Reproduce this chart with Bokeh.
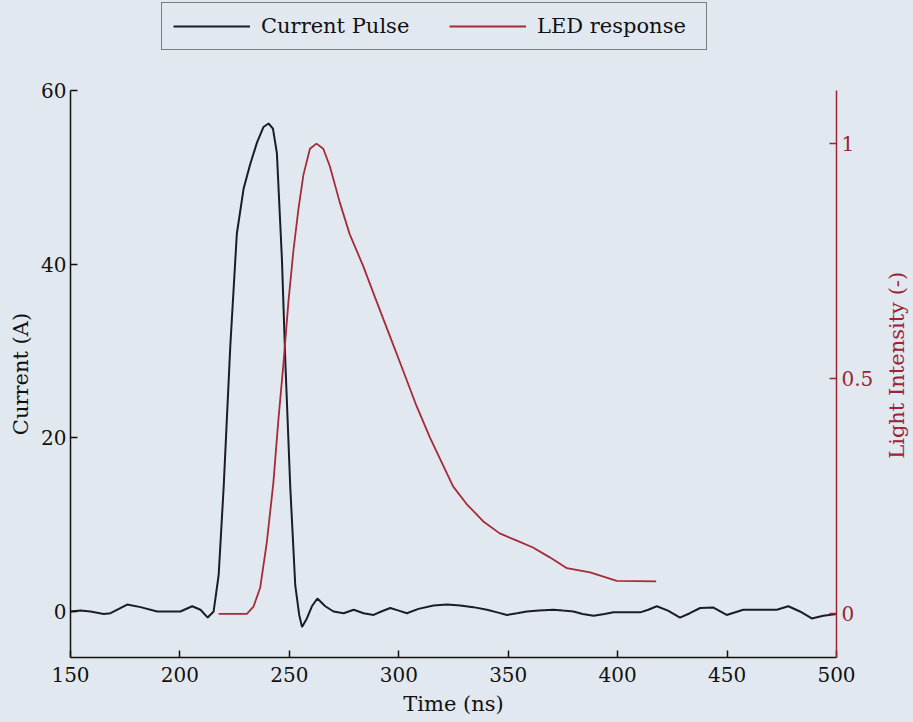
from bokeh.plotting import figure
from bokeh.layouts import column, row
from bokeh.models import (Range1d, LinearAxis, FixedTicker, Legend, LegendItem,
                          PrintfTickFormatter, Label)
from bokeh.embed import file_html
from bokeh.resources import INLINE

# ---------------- data ----------------
time_current = [150, 154.6, 159.1, 165.2, 168.3, 175.9, 182, 189.6, 200.2, 205.6,
                209.4, 212.7, 215.4, 217.7, 220, 223, 226, 229.1, 232.1, 235.2,
                238.2, 240.5, 242.5, 244.3, 246.6, 248.2, 250.4, 252.7, 254.5, 255.8,
                258, 260.3, 262.8, 266.4, 270.2, 274.8, 279.4, 283.9, 288.5, 292,
                296.1, 300, 303.7, 309, 315.9, 322, 328.1, 334, 340.3, 345,
                349.4, 354, 358.5, 364, 370.7, 375, 379.8, 384, 389, 394,
                398.1, 404, 410.3, 414, 417.9, 423, 428.5, 433, 437.7, 443.8,
                449.8, 457.4, 465.1, 472.7, 478, 483.3, 488.7, 494, 500]
current = [0, 0.1, 0, -0.3, -0.2, 0.8, 0.5, 0, 0, 0.6,
           0.2, -0.7, 0, 4.2, 14.4, 30.5, 43.5, 48.7, 51.5, 54,
           55.8, 56.2, 55.6, 52.8, 40.6, 28.5, 14.4, 3.0, -0.4, -1.8,
           -0.8, 0.6, 1.5, 0.6, 0, -0.2, 0.2, -0.2, -0.4, 0,
           0.4, 0.1, -0.2, 0.3, 0.7, 0.8, 0.7, 0.5, 0.2, -0.1,
           -0.4, -0.2, 0, 0.1, 0.2, 0.1, 0, -0.3, -0.5, -0.3,
           -0.1, -0.1, -0.1, 0.2, 0.6, 0.1, -0.7, -0.2, 0.4, 0.45,
           -0.4, 0.2, 0.2, 0.2, 0.6, 0, -0.8, -0.5, -0.3]

time_led = [217.7, 230.6, 233.6, 236.7, 239.7, 242.7, 245, 247.3, 249.6, 251.8,
            254.1, 256.4, 259.4, 262.4, 265.5, 268.5, 273.1, 277.6, 283.7, 289.8,
            295.9, 302, 308.1, 314.2, 320.2, 324.8, 330.9, 338.5, 346.1, 353.7,
            361.3, 369, 376.8, 387.4, 399.6, 417.6]
led = [0, 0, 0.015, 0.056, 0.152, 0.279, 0.413, 0.532, 0.665, 0.77,
       0.859, 0.933, 0.989, 1.0, 0.989, 0.952, 0.874, 0.807, 0.74, 0.665,
       0.591, 0.517, 0.442, 0.375, 0.316, 0.271, 0.234, 0.197, 0.171, 0.156,
       0.141, 0.12, 0.097, 0.088, 0.07, 0.069]

x_ticks = [150, 200, 250, 300, 350, 400, 450, 500]
current_ticks = [0, 20, 40, 60]
light_ticks = [0, 0.5, 1]
series_labels = ["Current Pulse", "LED response"]
x_label = "Time (ns)"
y_label = "Current (A)"
y2_label = "Light Intensity (-)"

# ---------------- style / layout constants ----------------
BG = "#e2e8ef"
BLACK = "#1c1c28"
RED = "#a52a3a"
AXRED = "#9a2436"
TXT = "#111111"
FONT = "DejaVu Serif"
W = 913          # total width
H = 722          # total height
TOP_H = 56       # legend strip height
LEFT = 70        # frame left (px)
RIGHT = 836      # frame right (px)
FRAME_TOP = 90
FRAME_BOTTOM = 657
PW = 876         # width of the main plot (frame + right tick labels)
RLABEL_X = 896   # centre of the rotated right-axis title
RLABEL_UP = 1.0  # small upward shift of that title (in current units)

Y_LO, Y_HI = -5.3, 60
Y2_LO, Y2_HI = -0.093, 1.113


def plain(fig):
    fig.background_fill_color = BG
    fig.border_fill_color = BG
    fig.outline_line_color = None
    fig.xgrid.visible = False
    fig.ygrid.visible = False


# ---------- legend strip (above the plot) ----------
# The series are re-plotted here outside the visible y-range, only to feed
# the legend its line samples.
lp = figure(width=W, height=TOP_H, output_backend="svg", toolbar_location=None,
            x_axis_location=None, y_axis_location=None,
            min_border_left=LEFT, min_border_right=W - RIGHT,
            min_border_top=0, min_border_bottom=0,
            x_range=Range1d(150, 500), y_range=Range1d(1000, 1001))
plain(lp)
d1 = lp.line(time_current, current, color=BLACK, line_width=2)
d2 = lp.line(time_led, led, color=RED, line_width=1.8)
legend = Legend(items=[LegendItem(label=series_labels[0], renderers=[d1]),
                       LegendItem(label=series_labels[1], renderers=[d2])],
                orientation="horizontal", location=(161 - LEFT, 6),
                border_line_color=TXT, border_line_width=1.5,
                background_fill_color=BG, background_fill_alpha=1.0,
                label_text_font=FONT, label_text_font_size="21px",
                label_text_color=TXT,
                glyph_width=77, glyph_height=20, label_standoff=11,
                label_width=158, spacing=30, padding=11, margin=0)
lp.add_layout(legend)

# ---------- main plot ----------
MAIN_H = H - TOP_H
p = figure(width=PW, height=MAIN_H, output_backend="svg", toolbar_location=None,
           x_range=Range1d(150, 500), y_range=Range1d(Y_LO, Y_HI),
           min_border_left=LEFT, min_border_right=PW - RIGHT,
           min_border_top=FRAME_TOP - TOP_H,
           min_border_bottom=H - FRAME_BOTTOM)
p.extra_y_ranges = {"light": Range1d(Y2_LO, Y2_HI)}
plain(p)

r1 = p.line(time_current, current, color=BLACK, line_width=2)
r2 = p.line(time_led, led, color=RED, line_width=1.8, y_range_name="light")


def style_axis(ax, color, text_color):
    ax.axis_line_color = color
    ax.axis_line_width = 1.5
    ax.major_tick_line_color = color
    ax.major_tick_line_width = 1.5
    ax.major_tick_in = 7
    ax.major_tick_out = 0
    ax.minor_tick_line_color = None
    ax.major_label_text_font = FONT
    ax.major_label_text_font_size = "20px"
    ax.major_label_text_color = text_color
    ax.axis_label_text_font = FONT
    ax.axis_label_text_font_size = "21px"
    ax.axis_label_text_font_style = "normal"
    ax.axis_label_text_color = text_color


xa = p.xaxis[0]
style_axis(xa, TXT, TXT)
xa.ticker = FixedTicker(ticks=x_ticks)
xa.axis_label = x_label
xa.major_label_standoff = 9
xa.axis_label_standoff = 7

ya = p.yaxis[0]
style_axis(ya, TXT, TXT)
ya.ticker = FixedTicker(ticks=current_ticks)
ya.axis_label = y_label
ya.major_label_standoff = 4
ya.axis_label_standoff = 5

ra = LinearAxis(y_range_name="light", ticker=FixedTicker(ticks=light_ticks),
                formatter=PrintfTickFormatter(format="%g"))
style_axis(ra, AXRED, AXRED)
ra.major_label_standoff = 5
p.add_layout(ra, "right")

# ---------- right-axis title strip (reads bottom-to-top) ----------
rp = figure(width=W - PW, height=MAIN_H, output_backend="svg", toolbar_location=None,
            x_axis_location=None, y_axis_location=None,
            min_border_left=0, min_border_right=0,
            min_border_top=FRAME_TOP - TOP_H, min_border_bottom=H - FRAME_BOTTOM,
            x_range=Range1d(0, W - PW), y_range=p.y_range)
plain(rp)
rp.add_layout(Label(x=RLABEL_X - PW, y=(Y_LO + Y_HI) / 2 + RLABEL_UP, text=y2_label,
                    angle=90, angle_units="deg", text_align="center",
                    text_baseline="middle", text_font=FONT,
                    text_font_size="21px", text_color=AXRED))

bg_style = {"background-color": BG}
layout = column(lp, row(p, rp, spacing=0, styles=bg_style), spacing=0,
                styles=bg_style)
open("out.html", "w").write(file_html(layout, INLINE))
